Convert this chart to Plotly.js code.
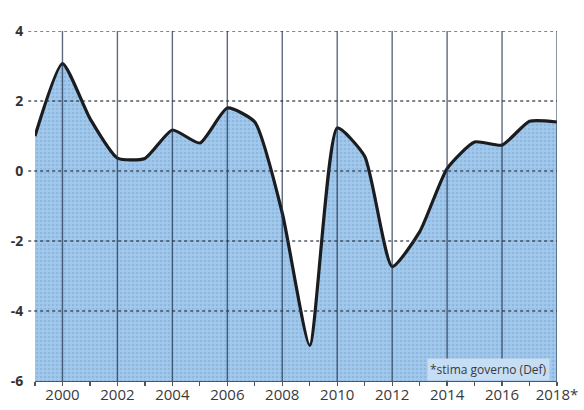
<!DOCTYPE html>
<html>
<head>
<meta charset="utf-8">
<script src="https://cdn.plot.ly/plotly-3.0.1.min.js"></script>
<style>html,body{margin:0;padding:0;background:#fff;}#chart{width:584px;height:410px;}</style>
</head>
<body>
<div id="chart"></div>
<script>
const years = [1999,2000,2001,2002,2003,2004,2005,2006,2007,2008,2009,2010,2011,2012,2013,2014,2015,2016,2017,2018];
const growth = [1.0,3.07,1.5,0.37,0.36,1.17,0.8,1.8,1.4,-1.2,-4.98,1.23,0.42,-2.73,-1.74,0.07,0.83,0.74,1.42,1.4];
const yRange = [-6, 4];
const yTicks = [-6,-4,-2,0,2,4];
const yTickText = ['-6','-4','-2','0','2','4'];
const xTicks = [2000,2002,2004,2006,2008,2010,2012,2014,2016,2018];
const xTickText = ['2000','2002','2004','2006','2008','2010','2012','2014','2016','2018*'];
const note = '*stima governo (Def)';

const baseline = years.map(() => yRange[0]);

const traces = [
  {x: years, y: baseline, mode: 'lines', line: {width: 0}, hoverinfo: 'skip', showlegend: false},
  {x: years, y: growth, mode: 'lines', fill: 'tonexty',
   fillcolor: '#a2c9ec',
   fillpattern: {shape: '.', bgcolor: '#a2c9ec', fgcolor: '#8fb8e0', size: 4, solidity: 0.35},
   line: {width: 0, shape: 'spline', smoothing: 0.55}, showlegend: false},
  {x: years, y: growth, mode: 'lines',
   line: {color: '#1a1c20', width: 3.2, shape: 'spline', smoothing: 0.55}, showlegend: false}
];

const gridShapes = [];
xTicks.forEach(v => gridShapes.push({
  type: 'line', layer: 'above', xref: 'x', yref: 'paper', x0: v, x1: v, y0: 0, y1: 1,
  line: {color: 'rgba(30,48,75,0.72)', width: 1.4}
}));
yTicks.slice(1).forEach(v => gridShapes.push({
  type: 'line', layer: 'above', xref: 'paper', yref: 'y', x0: -0.013, x1: 1, y0: v, y1: v,
  line: {color: 'rgba(40,50,65,0.8)', width: 1.3, dash: 'dot'}
}));

const layout = {
  width: 584, height: 410,
  margin: {l: 35, r: 27, t: 31, b: 29},
  paper_bgcolor: '#ffffff', plot_bgcolor: '#ffffff',
  font: {family: 'Open Sans, Noto Sans, sans-serif', color: '#333'},
  xaxis: {
    range: [1999, 2018], tickvals: xTicks, ticktext: xTickText,
    showgrid: false, zeroline: false, showline: true, linecolor: '#555', linewidth: 1.3,
    ticks: '', tickfont: {size: 15, color: '#3a3a3a'},
    minor: {dtick: 1, tick0: 1999, ticks: 'outside', ticklen: 4, tickcolor: '#555', tickwidth: 1.3, showgrid: false},
    layer: 'above traces', fixedrange: true
  },
  yaxis: {
    range: yRange, tickvals: yTicks, ticktext: yTickText,
    showgrid: false, zeroline: false, showline: false,
    ticks: 'outside', ticklen: 8, tickcolor: 'rgba(0,0,0,0)',
    tickfont: {size: 14, color: '#333', weight: 'bold'},
    fixedrange: true
  },
  shapes: gridShapes,
  annotations: [{
    text: note, xref: 'paper', yref: 'paper', x: 0.987, y: 0.034,
    xanchor: 'right', yanchor: 'middle', showarrow: false,
    font: {size: 12, color: '#3a3a3a'},
    bgcolor: '#c6ddf3', borderpad: 2
  }]
};

Plotly.newPlot('chart', traces, layout, {displayModeBar: false, staticPlot: true});
</script>
</body>
</html>
